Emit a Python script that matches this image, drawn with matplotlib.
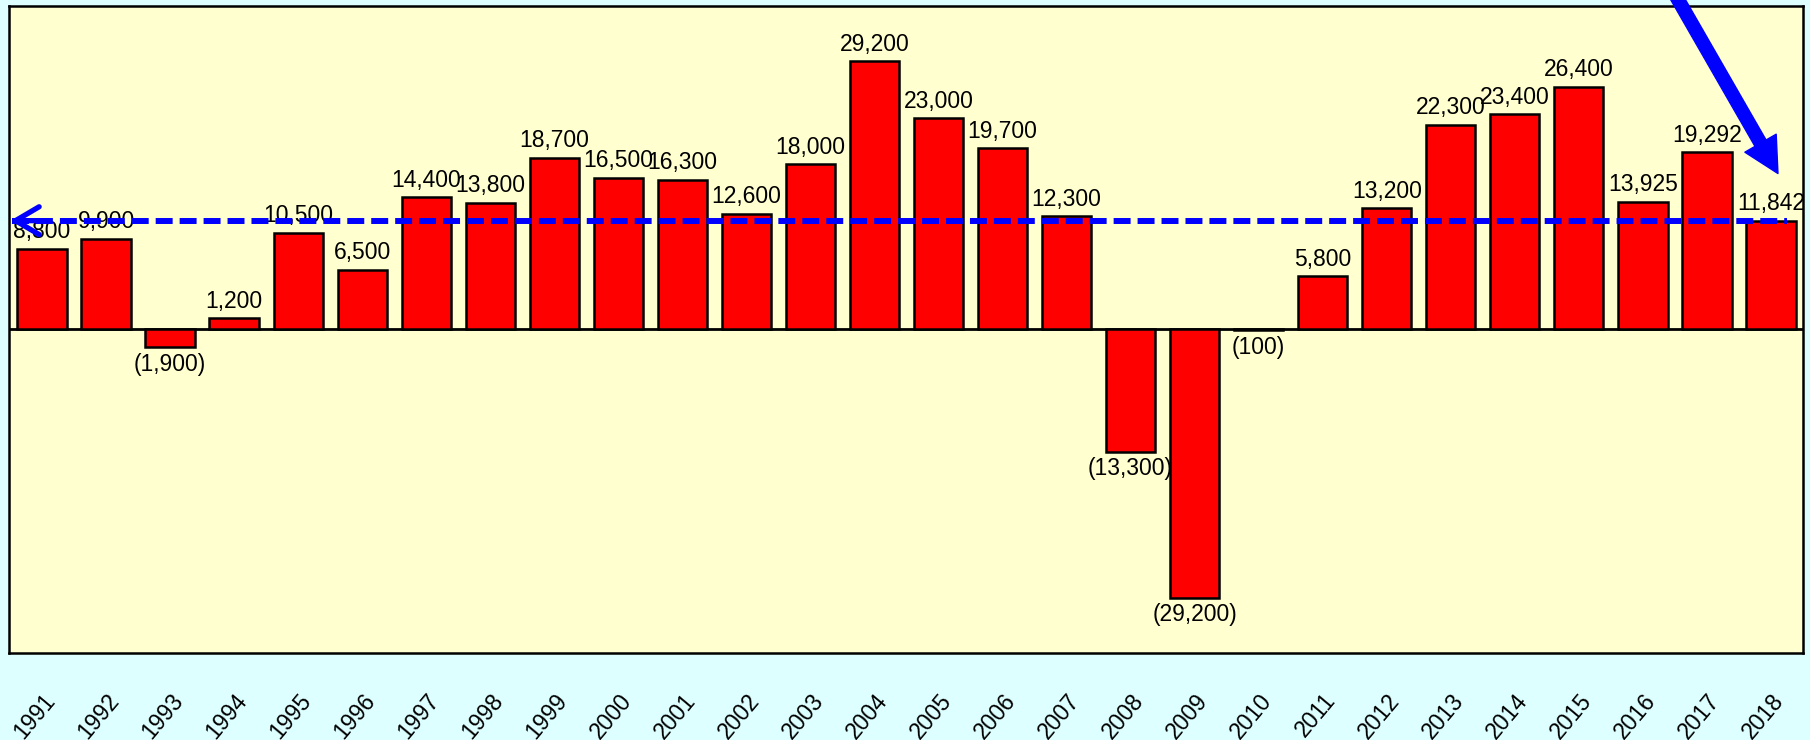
import matplotlib
matplotlib.use("Agg")
import matplotlib.pyplot as plt

# Annual change, 1991-2018
years = [str(y) for y in range(1991, 2019)]
values = [8800, 9900, -1900, 1200, 10500, 6500, 14400, 13800, 18700, 16500,
          16300, 12600, 18000, 29200, 23000, 19700, 12300, -13300, -29200, -100,
          5800, 13200, 22300, 23400, 26400, 13925, 19292, 11842]
reference_level = 11842

fig = plt.figure(figsize=(18.1, 7.4), dpi=100, facecolor="#DDFFFF")
ax = fig.add_axes([0.005, 0.1176, 0.9911, 0.8743], facecolor="#FFFFD0")

x = list(range(len(years)))
ax.axhline(0, color="black", lw=2, zorder=1)
ax.bar(x, values, width=0.77, color="#FF0000", edgecolor="black", lw=1.8, zorder=2)

def fmt(v):
    return f"({abs(v):,})" if v < 0 else f"{v:,}"

for xi, v in zip(x, values):
    if v >= 0:
        ax.annotate(fmt(v), (xi, v), xytext=(0, 4), textcoords="offset points",
                    ha="center", va="bottom", fontsize=16.5, family="Liberation Sans",
                    zorder=4)
    else:
        ax.annotate(fmt(v), (xi, v), xytext=(0, -4), textcoords="offset points",
                    ha="center", va="top", fontsize=16.5, family="Liberation Sans",
                    zorder=4)

ax.set_xlim(-0.515, len(years) - 0.5)
ax.set_ylim(-35200, 35200)
ax.set_yticks([])
ax.set_xticks(x)
ax.set_xticklabels(years, rotation=50, ha="right", va="top",
                   rotation_mode="anchor", fontsize=16.5, family="Liberation Sans")
ax.tick_params(axis="x", length=0, pad=26)
for s in ax.spines.values():
    s.set_color("black")
    s.set_linewidth(1.8)

# Dashed reference level with an open arrowhead at the left edge
x_left = ax.get_xlim()[0]
ax.plot([x_left + 0.05, 27.25], [reference_level, reference_level], color="#0000FF",
        lw=4.3, linestyle=(0, (2.84, 1.17)), zorder=5)
ax.annotate("", xy=(x_left + 0.02, reference_level), xytext=(x_left + 0.6, reference_level),
            arrowprops=dict(arrowstyle="->,head_length=0.85,head_width=0.5",
                            color="#0000FF", lw=3.8, mutation_scale=20,
                            shrinkA=0, shrinkB=0),
            zorder=6, annotation_clip=False)

# Large pointer arrow onto the last bar
ax.annotate("", xy=(27.11, 16970), xycoords="data",
            xytext=(1661, 770), textcoords="figure pixels",
            arrowprops=dict(arrowstyle="simple,head_length=1.26,head_width=1.3,tail_width=0.46",
                            color="#0000FF", mutation_scale=20, shrinkA=0, shrinkB=0),
            zorder=6, annotation_clip=False)

fig.savefig("out.png", dpi=100, facecolor=fig.get_facecolor())
